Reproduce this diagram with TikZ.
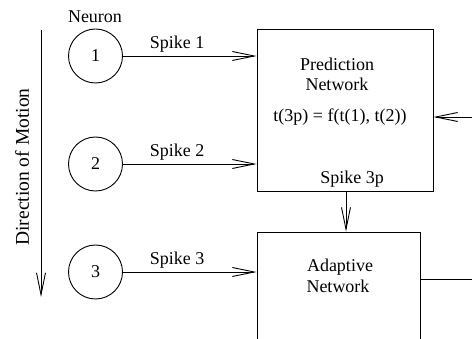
\documentclass[tikz,border=0pt]{standalone}
\usepackage{fontspec}
\setmainfont{Liberation Serif}
\usetikzlibrary{arrows.meta}
\begin{document}
\begin{tikzpicture}[x=1pt,y=-1pt,
  every node/.style={font=\fontsize{18}{21}\selectfont, inner sep=0pt},
  neuron/.style={draw, circle, minimum size=54pt, line width=0.9pt},
  netbox/.style={draw, rectangle, line width=0.9pt},
  conn/.style={line width=0.9pt, -{Straight Barb[length=22pt,width=9pt,line width=0.9pt]}},
  plain/.style={line width=0.9pt}]
\useasboundingbox (0,0) rectangle (472,339);
\clip (0,0) rectangle (472,339);
\node[neuron] (n1) at (95.5,56) {1};
\node[neuron] (n2) at (95.5,164) {2};
\node[neuron] (n3) at (95.5,272) {3};
\node (neuronlbl) at (95,17) {Neuron};
\node[netbox, minimum width=176pt, minimum height=162pt] (pred) at (345,110) {};
\node[netbox, minimum width=163pt, minimum height=140pt] (adapt) at (338.5,302) {};
\node (predt1) at (337,64) {Prediction};
\node (predt2) at (337,84) {Network};
\node (formula) at (340,117) {t(3p) = f(t(1), t(2))};
\node (sp3p) at (352,179) {Spike 3p};
\node (adt1) at (340,267) {Adaptive};
\node (adt2) at (338,286) {Network};
\node (s1) at (177,44) {Spike 1};
\node (s2) at (177,152) {Spike 2};
\node (s3) at (177,260) {Spike 3};
\draw[conn] (n1.east) -- (pred.west |- n1.east);
\draw[conn] (n2.east) -- (pred.west |- n2.east);
\draw[conn] (n3.east) -- (adapt.west |- n3.east);
\coordinate (fbin) at (472,117);
\coordinate (adout) at (472,279);
\draw[conn] (fbin) -- (pred.east |- fbin);
\draw[plain] (adapt.east |- adout) -- (adout);
\coordinate (p3) at (346,191);
\draw[conn] (p3) -- (adapt.north -| p3);
\coordinate (dtop) at (41,30);
\coordinate (dbot) at (41,297);
\draw[conn] (dtop) -- (dbot);
\node[rotate=90, font=\fontsize{19.5}{22}\selectfont] (dir) at (22,167) {Direction of Motion};
\end{tikzpicture}
\end{document}
